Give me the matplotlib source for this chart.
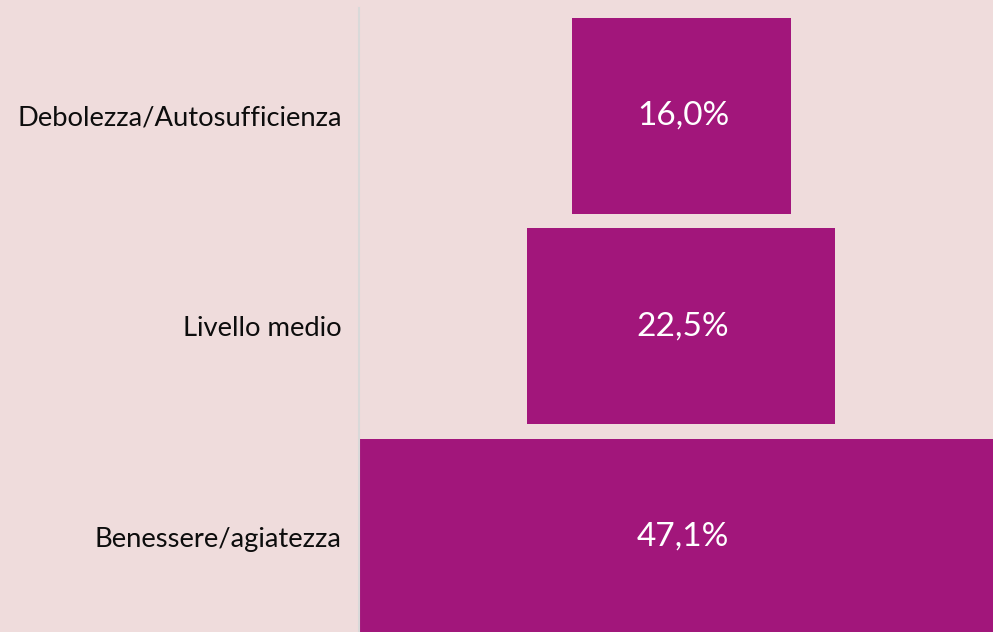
import matplotlib
matplotlib.use("Agg")
import matplotlib.pyplot as plt

# data
categories = ["Debolezza/Autosufficienza", "Livello medio", "Benessere/agiatezza"]
values = [16.0, 22.5, 47.1]
value_labels = ["16,0%", "22,5%", "47,1%"]

bg_color = "#EFDCDC"
bar_color = "#A2167B"

plt.rcParams["font.family"] = ["Lato", "DejaVu Sans"]

fig = plt.figure(figsize=(9.93, 6.32), dpi=100, facecolor=bg_color)
# axes span from the vertical axis line to the right edge of the figure
ax = fig.add_axes([358.5 / 993, 0.0, 1 - 358.5 / 993, 1 - 8 / 632])
ax.set_facecolor(bg_color)

ypos = list(range(len(categories)))
lefts = [-v / 2 for v in values]
ax.barh(ypos, values, left=lefts, height=0.93, color=bar_color, edgecolor="none")

for y, lab in zip(ypos, value_labels):
    ax.text(0.15, y, lab, ha="center", va="center", color="white", fontsize=24)

# funnel centred at 0, widest bar clipped on the right
ax.set_xlim(-23.56, 22.79)
ax.set_ylim(2.451, -0.512)

ax.set_yticks(ypos)
ax.set_yticklabels(categories, fontsize=19.7, color="#0D0D0D")
ax.tick_params(axis="y", length=0, pad=12)
ax.set_xticks([])

for s in ["top", "right", "bottom"]:
    ax.spines[s].set_visible(False)
ax.spines["left"].set_color("#D9D9D9")
ax.spines["left"].set_linewidth(1.5)

fig.savefig("out.png", dpi=100, facecolor=bg_color)
